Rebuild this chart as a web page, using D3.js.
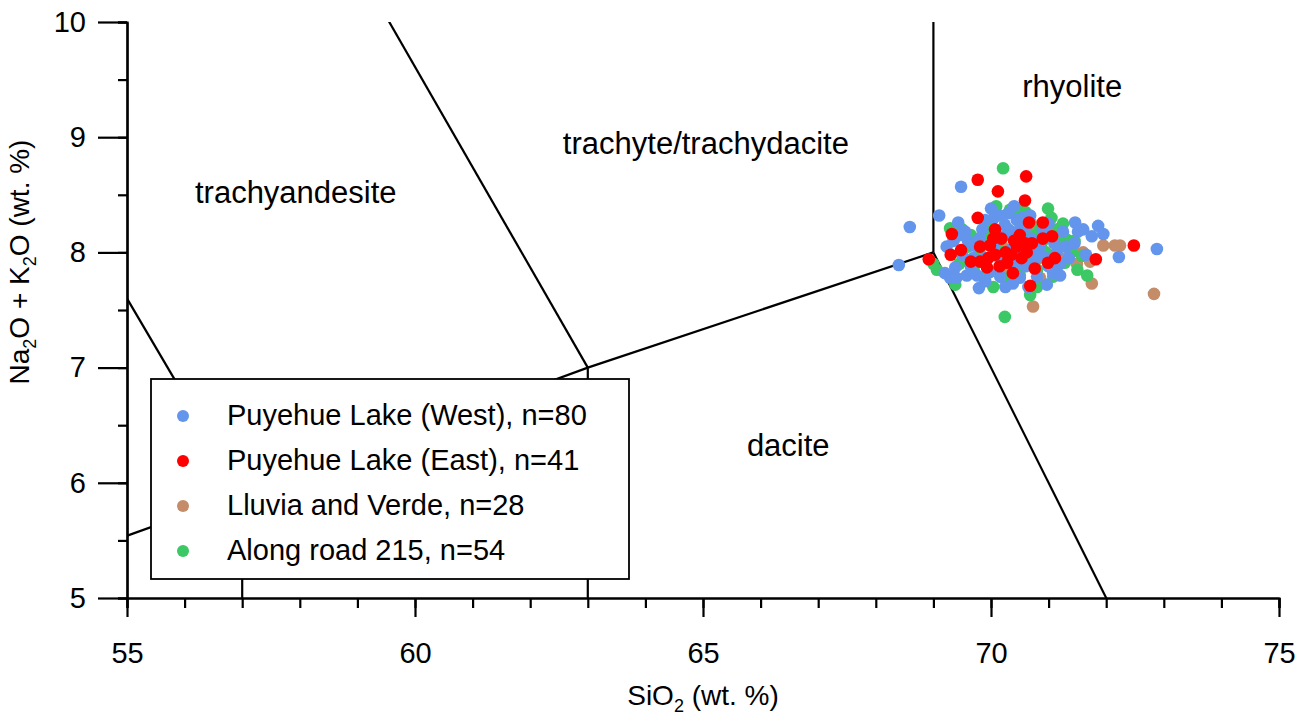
<!DOCTYPE html>
<html>
<head>
<meta charset="utf-8">
<script src="https://cdn.jsdelivr.net/npm/d3@7"></script>
<style>
  body { margin: 0; background: #fff; }
  text { font-family: "Liberation Sans", Arial, sans-serif; fill: #000; }
  .axis path, .axis line { stroke: #000; stroke-width: 2.2px; }
</style>
</head>
<body>
<div id="chart"></div>
<script>
// SiO2 vs Na2O+K2O (wt. %)
var west = [
  [68.40,7.89],[68.59,8.22],[69.10,8.32],[69.48,8.57],[69.43,8.26],[69.55,8.18],[69.23,8.05],[69.38,7.87],
  [69.20,7.82],[69.29,7.78],[69.58,7.80],[69.76,7.80],[69.79,7.69],[69.69,7.95],[69.70,8.06],[69.98,7.83],
  [70.16,7.79],[70.38,7.73],[70.80,7.79],[70.97,7.72],[71.08,7.82],[71.14,8.00],[70.80,8.00],[70.33,8.02],
  [70.21,8.14],[70.24,8.24],[70.45,8.28],[70.68,8.32],[71.25,8.18],[71.46,8.26],[71.51,8.18],[71.86,8.23],
  [71.95,8.16],[71.75,8.14],[72.22,7.96],[72.88,8.03],[69.60,8.10],[69.85,8.20],[69.90,8.28],[70.05,8.30],
  [70.15,8.32],[70.30,8.34],[70.55,8.30],[70.60,8.22],[70.90,8.20],[71.00,8.25],[71.10,8.08],[71.30,8.05],
  [71.35,7.95],[71.20,7.90],[70.95,7.95],[70.60,7.88],[70.45,7.90],[70.20,7.95],[70.05,8.02],[69.90,7.95],
  [69.50,7.98],[69.45,8.15],[69.35,8.10],[70.50,7.78],[70.65,7.70],[70.25,7.70],[69.90,7.75],[70.70,8.12],
  [70.35,8.18],[70.10,8.10],[70.85,8.05],[71.00,7.88],[71.45,8.08],[71.60,8.20],[71.65,7.98],[70.55,8.02],
  [69.80,8.12],[70.40,8.40],[70.75,7.92],[69.65,7.88],[70.00,8.38],[71.20,7.80],[69.40,7.78],[70.50,8.20]
];
var east = [
  [69.77,8.63],[70.61,8.66],[70.12,8.53],[70.59,8.45],[69.77,8.30],[69.32,8.16],[70.07,8.20],[70.66,8.26],
  [70.90,8.26],[70.04,8.12],[70.18,8.12],[70.50,8.15],[70.90,8.12],[71.06,8.14],[72.48,8.06],[71.82,7.94],
  [70.68,7.71],[68.92,7.94],[69.30,7.98],[69.48,8.02],[69.81,8.05],[69.81,7.92],[69.93,7.87],[70.07,7.98],
  [69.98,8.06],[70.28,7.91],[70.38,7.82],[70.53,7.95],[70.45,8.05],[70.59,8.08],[70.71,8.08],[70.76,7.86],
  [70.99,7.91],[71.11,7.95],[70.25,8.00],[70.40,8.10],[69.95,7.95],[70.35,7.98],[70.62,8.00],[70.15,7.88],
  [69.65,7.92]
];
var lluvia = [
  [71.42,8.04],[71.95,8.06],[72.24,8.06],[71.49,7.90],[71.72,7.92],[71.75,7.73],[72.83,7.64],[70.73,7.53],
  [70.85,7.78],[70.80,7.94],[72.15,8.06],[70.60,8.10],[70.90,8.15],[71.20,8.05],[70.40,7.95],[70.95,8.00],
  [71.30,7.95],[70.50,7.85],[71.00,8.20],[70.20,8.05],[70.70,8.25],[71.10,7.85],[70.30,7.85],[71.60,8.00],
  [70.65,7.98],[71.15,8.12],[70.45,8.15],[70.85,8.08]
];
var road = [
  [70.21,8.73],[70.09,8.40],[70.33,8.37],[70.47,8.37],[70.99,8.38],[69.29,8.21],[69.06,7.85],[69.00,7.90],
  [69.38,7.72],[70.04,7.70],[70.24,7.44],[69.90,7.79],[70.68,7.63],[71.67,7.80],[71.58,7.97],[71.28,7.91],
  [71.08,7.79],[71.32,8.11],[71.20,8.08],[70.21,7.78],[71.45,8.10],[70.85,8.20],[70.60,8.35],[71.05,8.30],
  [70.75,8.05],[70.40,8.00],[70.10,8.05],[69.80,8.00],[69.60,8.05],[69.45,7.90],[69.70,7.85],[70.50,7.80],
  [70.80,7.85],[71.00,7.95],[70.30,8.20],[69.95,8.25],[70.70,8.15],[71.15,8.20],[70.55,7.95],[70.20,7.90],
  [69.50,8.20],[71.40,8.00],[70.90,8.10],[70.00,8.15],[70.35,7.75],[70.65,8.00],[69.85,8.10],[71.25,8.25],
  [70.45,8.10],[70.15,7.95],[70.80,7.70],[71.50,7.85],[69.65,8.15],[70.95,8.00]
];

var legendNames = ["Puyehue Lake (West), n=80","Puyehue Lake (East), n=41","Lluvia and Verde, n=28","Along road 215, n=54"];
var legendColors = ["#6495ED","#FF0000","#C48C68","#3CC864"];

// TAS field boundaries (Le Bas et al.)
var fieldLines = [
  [[53,9.3],[57,5.9]],
  [[52,5],[57,5.9],[63,7],[69,8]],
  [[57,5],[57,5.9]],
  [[63,5],[63,7]],
  [[57.6,11.7],[63,7]],
  [[69,8],[69,13]],
  [[69,8],[77,0]]
];
var fieldLabels = [
  {t:"rhyolite", x:71.41, y:9.35},
  {t:"trachyte/trachydacite", x:65.05, y:8.85},
  {t:"trachyandesite", x:57.93, y:8.43},
  {t:"dacite", x:66.48, y:6.23}
];
var xMajor = [55,60,65,70,75];
var yMajor = [5,6,7,8,9,10];

var width = 1299, height = 720;
var padding = {left:127, right:20, top:22, bottom:122};

var svg = d3.select("#chart").append("svg")
  .attr("width", width).attr("height", height);

var x_scale = d3.scaleLinear().domain([55,75]).range([padding.left, width-padding.right]);
var y_scale = d3.scaleLinear().domain([5,10]).range([height-padding.bottom, padding.top]);

svg.append("clipPath").attr("id","plotclip").append("rect")
  .attr("x", padding.left).attr("y", padding.top)
  .attr("width", x_scale(75)-x_scale(55)).attr("height", y_scale(5)-y_scale(10));

// field boundaries
var line = d3.line().x(function(d){ return x_scale(d[0]); }).y(function(d){ return y_scale(d[1]); });
svg.append("g").attr("clip-path","url(#plotclip)")
  .selectAll("path").data(fieldLines).enter().append("path")
  .attr("d", line)
  .style("fill","none").style("stroke","#000").style("stroke-width","2.2px");

svg.append("g").selectAll("text").data(fieldLabels).enter().append("text")
  .attr("x", function(d){ return x_scale(d.x); })
  .attr("y", function(d){ return y_scale(d.y); })
  .attr("text-anchor","middle")
  .style("font-size","31px")
  .text(function(d){ return d.t; });

// axes: minor ticks first, then major ones
var xAxisG = svg.append("g").attr("class","axis")
  .attr("transform","translate(0,"+y_scale(5)+")");
xAxisG.call(d3.axisBottom(x_scale).ticks(20).tickSize(10).tickFormat(""));
var xMaj = svg.append("g").attr("class","axis")
  .attr("transform","translate(0,"+y_scale(5)+")")
  .call(d3.axisBottom(x_scale).tickValues(xMajor).tickSize(19).tickSizeOuter(0).tickPadding(25).tickFormat(d3.format("d")));
xMaj.selectAll("text").style("font-size","29px");

var yAxisG = svg.append("g").attr("class","axis")
  .attr("transform","translate("+x_scale(55)+",0)");
yAxisG.call(d3.axisLeft(y_scale).ticks(10).tickSize(9).tickFormat(""));
var yMaj = svg.append("g").attr("class","axis")
  .attr("transform","translate("+x_scale(55)+",0)")
  .call(d3.axisLeft(y_scale).tickValues(yMajor).tickSize(29).tickSizeOuter(0).tickPadding(12).tickFormat(d3.format("d")));
yMaj.selectAll("text").style("font-size","29px");
svg.selectAll(".axis text").style("fill","#000").style("font-family","'Liberation Sans', Arial, sans-serif");

// axis titles
var xt = svg.append("text").attr("x", x_scale(65)).attr("y", 705)
  .attr("text-anchor","middle").style("font-size","28px");
xt.append("tspan").text("SiO");
xt.append("tspan").text("2").attr("dy",7).style("font-size","18px");
xt.append("tspan").text(" (wt. %)").attr("dy",-7);

var yt = svg.append("text").attr("transform","translate(29,262) rotate(-90)")
  .attr("text-anchor","middle").style("font-size","28px");
yt.append("tspan").text("Na");
yt.append("tspan").text("2").attr("dy",7).style("font-size","18px");
yt.append("tspan").text("O + K").attr("dy",-7);
yt.append("tspan").text("2").attr("dy",7).style("font-size","18px");
yt.append("tspan").text("O (wt. %)").attr("dy",-7);

// points: drawn brown, green, blue, red
var groups = [
  {data:lluvia, color:legendColors[2]},
  {data:road, color:legendColors[3]},
  {data:west, color:legendColors[0]},
  {data:east, color:legendColors[1]}
];
groups.forEach(function(g){
  svg.append("g").attr("class","circleg")
    .selectAll("circle").data(g.data).enter().append("circle")
    .attr("cx", function(d){ return x_scale(d[0]); })
    .attr("cy", function(d){ return y_scale(d[1]); })
    .attr("r", 6.3)
    .style("fill", g.color);
});

// legend
var lg = svg.append("g").attr("transform","translate(151,379)");
lg.append("rect").attr("width",478).attr("height",200)
  .style("fill","#fff").style("stroke","#000").style("stroke-width","1.8px");
var item = lg.selectAll("g.item").data(legendNames).enter().append("g")
  .attr("class","item")
  .attr("transform", function(d,i){ return "translate(0,"+(37+45*i)+")"; });
item.append("circle").attr("cx",32).attr("cy",0).attr("r",6)
  .style("fill", function(d,i){ return legendColors[i]; });
item.append("text").attr("x",76).attr("y",9).style("font-size","29px")
  .text(function(d){ return d; });
</script>
</body>
</html>
